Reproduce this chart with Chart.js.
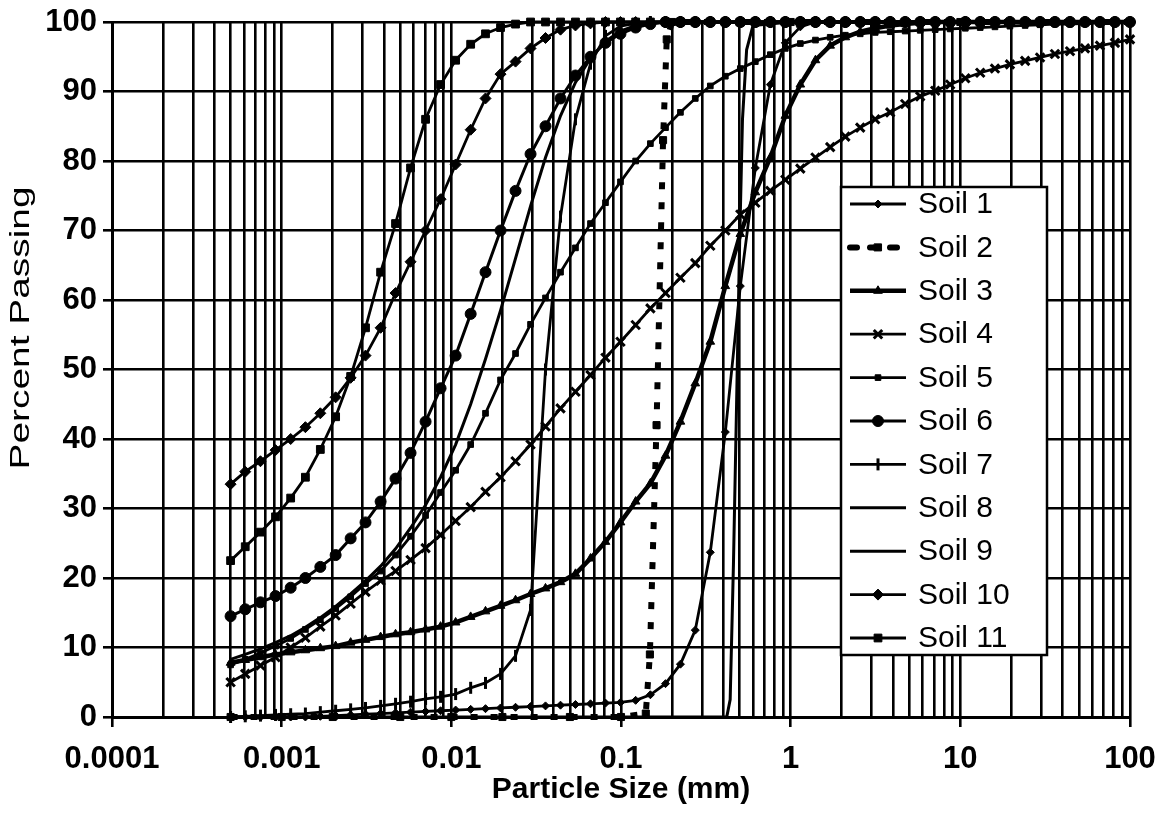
<!DOCTYPE html>
<html>
<head>
<meta charset="utf-8">
<script src="https://cdn.jsdelivr.net/npm/chart.js@4/dist/chart.umd.min.js"></script>
<style>
  html, body { margin: 0; padding: 0; background: #fff; }
</style>
</head>
<body>
<canvas id="c" width="1167" height="817"></canvas>
<script>
// particle sizes (mm) shared by the smooth curves
const sizes = [0.0005,0.00061,0.00075,0.00092,0.00113,0.00138,0.00169,0.00208,0.00255,0.00312,
  0.00383,0.00469,0.00575,0.00705,0.00864,0.0106,0.013,0.0159,0.0195,0.0239,
  0.0293,0.0359,0.044,0.0539,0.0661,0.081,0.0993,0.122,0.149,0.183,
  0.224,0.274,0.336,0.412,0.505,0.619,0.759,0.93,1.14,1.4,
  1.71,2.1,2.57,3.15,3.86,4.73,5.8,7.11,8.71,10.7,
  13.1,16,19.6,24.1,29.5,36.1,44.3,54.3,66.5,81.5,100];

// percent passing, one list per soil
const soil1 = [0,0,0,0,0,0,0.1,0.2,0.3,0.4,0.5,0.6,0.7,0.8,0.9,1,1.1,1.2,1.3,1.4,
  1.5,1.6,1.7,1.8,1.9,2,2.1,2.4,3.2,4.8,7.6,12.5,23.7,41,62,79,91,97,99.3,100,
  100,100,100,100,100,100,100,100,100,100,100,100,100,100,100,100,100,100,100,100,100];
const soil3 = [7.8,8.2,8.6,9,9.3,9.6,9.9,10.2,10.7,11.1,11.5,11.9,12.2,12.6,13,13.6,14.4,15.2,16,16.8,
  17.7,18.5,19.4,20.6,22.8,25.2,28,31,33.6,37.6,42.5,48,54,62,69.5,75.5,80.5,86.5,91,94.5,
  96.6,97.8,98.6,99.1,99.5,99.7,99.9,100,100,100,100,100,100,100,100,100,100,100,100,100,100];
const soil4 = [5,6.2,7.4,8.6,10,11.4,13,14.6,16.3,18,19.6,21,22.6,24.3,26.2,28.2,30.2,32.4,34.5,36.8,
  39.2,41.8,44.4,46.8,49.2,51.7,54,56.4,58.8,61,63.2,65.3,67.8,70,72.3,74,75.7,77.3,78.9,80.5,
  82,83.5,84.8,86,87,88.2,89.3,90.1,91,91.9,92.7,93.3,93.9,94.4,94.9,95.4,95.8,96.2,96.6,97,97.5];
const soil5 = [7.5,8.3,9.2,10.2,11.3,12.6,14,15.6,17.3,19.2,21,23.3,26,29,32.3,35.5,39.2,43.7,48.5,52.3,
  56.5,60.3,64,67.5,71,74,77,80,82.5,84.8,87,89,90.8,92.2,93.3,94.3,95.3,96.2,96.9,97.4,
  97.8,98.1,98.3,98.5,98.6,98.7,98.8,98.9,99,99.1,99.2,99.3,99.4,99.5,99.6,99.7,99.7,99.8,99.9,99.9,100];
const soil6 = [14.5,15.5,16.5,17.4,18.6,20,21.6,23.3,25.7,28,31,34.3,38,42.5,47.3,52,58,64,70,75.7,
  81,85,89,92.3,95,97,98.3,99.2,99.7,100,100,100,100,100,100,100,100,100,100,100,
  100,100,100,100,100,100,100,100,100,100,100,100,100,100,100,100,100,100,100,100,100];
const soil7 = [0,0.1,0.2,0.3,0.4,0.5,0.7,0.9,1.1,1.3,1.6,1.9,2.2,2.6,2.9,3.3,4.2,4.9,6.2,8.8,
  15.4,50,72,86,94,98,99.4,99.8,100,100,100,100,100,100,100,100,100,100,100,100,
  100,100,100,100,100,100,100,100,100,100,100,100,100,100,100,100,100,100,100,100,100];
const soil8 = [8.3,9,9.8,10.7,11.7,12.9,14.3,15.9,17.7,19.6,21.7,24.2,27.2,30.5,34.5,39.2,45,51.5,58.5,66,
  73.5,80.5,86.5,91.3,94.8,97.2,98.7,99.5,99.8,100,100,100,100,100,100,100,100,100,100,100,
  100,100,100,100,100,100,100,100,100,100,100,100,100,100,100,100,100,100,100,100,100];
const soil10 = [33.5,35.3,36.8,38.4,40,41.7,43.7,46,48.8,52,56,61,65.5,70,74.5,79.5,84.5,89,92.5,94.3,
  96.2,97.7,98.9,99.5,99.8,100,100,100,100,100,100,100,100,100,100,100,100,100,100,100,
  100,100,100,100,100,100,100,100,100,100,100,100,100,100,100,100,100,100,100,100,100];
const soil11 = [22.5,24.5,26.6,28.8,31.5,34.5,38.5,43.2,49,56,64,71,79,86,91,94.5,96.8,98.3,99.2,99.7,
  100,100,100,100,100,100,100,100,100,100,100,100,100,100,100,100,100,100,100,100,
  100,100,100,100,100,100,100,100,100,100,100,100,100,100,100,100,100,100,100,100,100];

// the two near-vertical soils have their own size lists
const sizes2 = [0.0005,0.001,0.002,0.005,0.01,0.02,0.05,0.1,0.14,0.148,0.162,0.177,0.186,0.2,0.5,1,10,100];
const soil2 = [0,0,0,0,0,0,0,0,0.5,9,42,83,97.5,100,100,100,100,100];
const sizes9 = [0.0005,0.01,0.1,0.3,0.42,0.44,0.46,0.48,0.5,0.52,0.55,0.6,1,10,100];
const soil9 = [0,0,0,0,0,2.5,22,45,68,86,96,99.5,100,100,100];

const xTickValues = [0.0001, 0.001, 0.01, 0.1, 1, 10, 100];
const xTickLabels = ['0.0001', '0.001', '0.01', '0.1', '1', '10', '100'];

const FONT = "'Liberation Sans', Arial, Helvetica, sans-serif";

function pts(sz, pv) {
  return sz.map((s, i) => ({ x: s, y: pv[i] }));
}

function isDecade(v) {
  return xTickValues.findIndex(d => Math.abs(Math.log10(v) - Math.log10(d)) < 1e-6);
}

const base = {
  borderColor: '#000',
  backgroundColor: '#000',
  pointBackgroundColor: '#000',
  pointBorderColor: '#000',
  pointBorderWidth: 1,
  tension: 0,
  fill: false,
  clip: false
};

const datasets = [
  { label: 'Soil 1', data: pts(sizes, soil1), pointStyle: 'rectRot', pointRadius: 4, borderWidth: 2.8 },
  { label: 'Soil 2', data: pts(sizes2, soil2), pointStyle: 'rect', pointRadius: 5, borderWidth: 6, borderDash: [7, 13] },
  { label: 'Soil 3', data: pts(sizes, soil3), pointStyle: 'triangle', pointRadius: 5, borderWidth: 4.5 },
  { label: 'Soil 4', data: pts(sizes, soil4), pointStyle: 'crossRot', pointRadius: 6, pointBorderWidth: 3, borderWidth: 2.8 },
  { label: 'Soil 5', data: pts(sizes, soil5), pointStyle: 'rect', pointRadius: 4, borderWidth: 2.8 },
  { label: 'Soil 6', data: pts(sizes, soil6), pointStyle: 'circle', pointRadius: 5.5, borderWidth: 3 },
  { label: 'Soil 7', data: pts(sizes, soil7), pointStyle: 'line', pointRotation: 90, pointRadius: 6, pointBorderWidth: 3, borderWidth: 2.8 },
  { label: 'Soil 8', data: pts(sizes, soil8), pointRadius: 0, borderWidth: 3 },
  { label: 'Soil 9', data: pts(sizes9, soil9), pointRadius: 0, borderWidth: 3 },
  { label: 'Soil 10', data: pts(sizes, soil10), pointStyle: 'rectRot', pointRadius: 5.5, borderWidth: 2.8 },
  { label: 'Soil 11', data: pts(sizes, soil11), pointStyle: 'rect', pointRadius: 5.5, borderWidth: 2.8 }
].map(d => Object.assign({}, base, d));

// legend box and y title drawn by hand to sit where the original has them
const extras = {
  id: 'extras',
  afterDraw(chart) {
    const c = chart.ctx;
    c.save();

    // y axis title, stretched along its length like the scan
    c.font = '27px ' + FONT;
    c.fillStyle = '#000';
    const title = 'Percent Passing';
    const w = c.measureText(title).width;
    c.translate(22, 328);
    c.rotate(-Math.PI / 2);
    c.scale(283 / w, 1);
    c.textAlign = 'center';
    c.textBaseline = 'middle';
    c.fillText(title, 0, 0);
    c.restore();

    // legend
    c.save();
    const bx = 841, by = 187, bw = 206, bh = 468;
    c.fillStyle = '#fff';
    c.fillRect(bx, by, bw, bh);
    c.strokeStyle = '#000';
    c.lineWidth = 2.5;
    c.strokeRect(bx, by, bw, bh);
    c.font = '30px ' + FONT;
    c.textAlign = 'left';
    c.textBaseline = 'middle';
    chart.data.datasets.forEach((ds, i) => {
      const y = 204 + i * 43.4;
      c.strokeStyle = '#000';
      c.lineWidth = ds.borderWidth;
      c.setLineDash(ds.borderDash || []);
      c.lineCap = ds.borderDash ? 'round' : 'butt';
      c.beginPath();
      c.moveTo(850, y);
      c.lineTo(906, y);
      c.stroke();
      c.setLineDash([]);
      if (ds.pointRadius > 0) {
        c.fillStyle = '#000';
        c.lineWidth = ds.pointBorderWidth;
        Chart.helpers.drawPoint(c, {
          pointStyle: ds.pointStyle,
          radius: ds.pointRadius,
          rotation: ds.pointRotation || 0,
          borderWidth: ds.pointBorderWidth
        }, 878, y);
      }
      c.fillStyle = '#000';
      c.fillText(ds.label, 918, y + 1);
    });
    c.restore();
  }
};

new Chart(document.getElementById('c').getContext('2d'), {
  type: 'line',
  data: { datasets },
  options: {
    responsive: false,
    animation: false,
    devicePixelRatio: 1,
    events: [],
    layout: { padding: { left: 0, right: 37, top: 22, bottom: 0 } },
    plugins: {
      legend: { display: false },
      tooltip: { enabled: false }
    },
    scales: {
      x: {
        type: 'logarithmic',
        min: 0.0001,
        max: 100,
        afterBuildTicks(scale) {
          const t = [];
          for (let e = -4; e < 2; e++) {
            for (let s = 1; s < 10; s++) t.push({ value: s * Math.pow(10, e) });
          }
          t.push({ value: 100 });
          scale.ticks = t;
        },
        afterFit(scale) {
          scale.height = 100;
          scale.paddingLeft = 0;
          scale.paddingRight = 0;
        },
        ticks: {
          autoSkip: false,
          maxRotation: 0,
          minRotation: 0,
          padding: 14,
          color: '#000',
          font: { family: FONT, size: 31, weight: 'bold' },
          callback(v) {
            const i = isDecade(v);
            return i >= 0 ? xTickLabels[i] : '';
          }
        },
        grid: {
          color: '#000',
          lineWidth: 2.6,
          tickLength: 10,
          tickWidth: 2.6,
          tickColor: ctx => (ctx.tick && isDecade(ctx.tick.value) >= 0 ? '#000' : 'rgba(0,0,0,0)')
        },
        border: { display: true, color: '#000', width: 3 },
        title: {
          display: true,
          text: 'Particle Size (mm)',
          color: '#000',
          font: { family: FONT, size: 30, weight: 'bold' },
          padding: { top: 0, bottom: 9 }
        }
      },
      y: {
        type: 'linear',
        min: 0,
        max: 100,
        afterFit(scale) {
          scale.width = 112;
          scale.paddingTop = 0;
          scale.paddingBottom = 0;
        },
        ticks: {
          stepSize: 10,
          padding: 6,
          color: '#000',
          font: { family: FONT, size: 31, weight: 'bold' }
        },
        grid: {
          color: '#000',
          lineWidth: 2.6,
          tickLength: 9,
          tickWidth: 2.6,
          tickColor: '#000'
        },
        border: { display: true, color: '#000', width: 3 }
      }
    }
  },
  plugins: [extras]
});
</script>
</body>
</html>
